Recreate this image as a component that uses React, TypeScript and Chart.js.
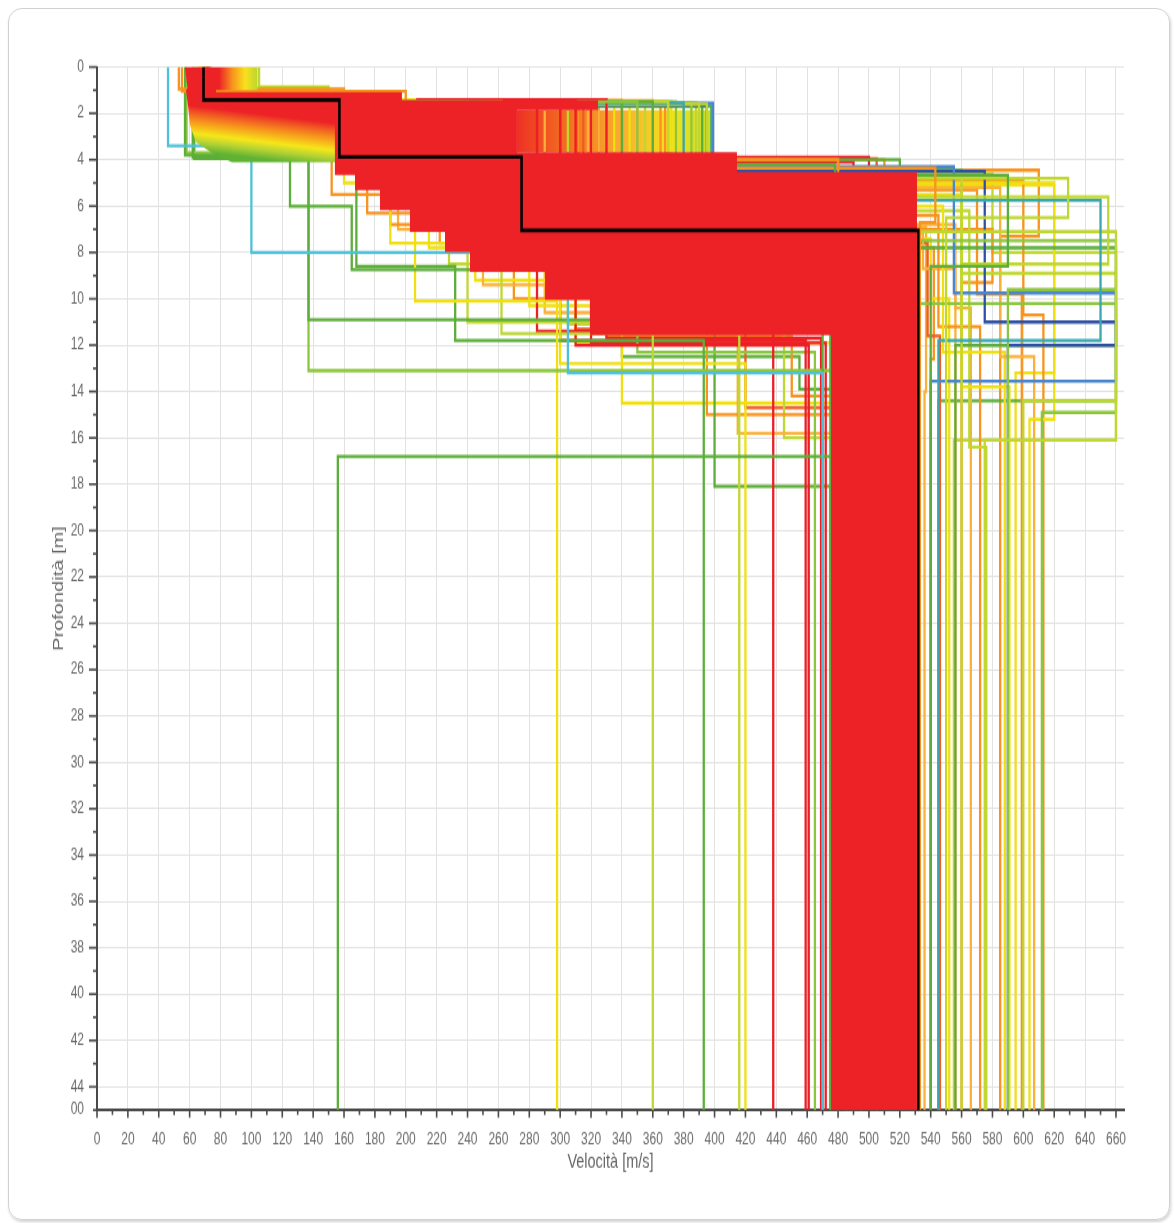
import React, { useEffect, useRef } from 'react';
import { Chart, registerables } from 'chart.js';

Chart.register(...registerables);

// ---------------- data ----------------
const DEPTH_MAX = 45;
const VEL_MAX = 665.2;
const VEL_TICK_LAST = 660;
const VEL_TICK_STEP = 10;

// best-fit profile (black)
const bestVelocities = [69, 157, 275, 532];
const bestInterfaces = [1.42, 3.88, 7.05];

// envelope of the dense red family of profiles (velocity, depth)
const redMassVelocities = [57.0, 77.1, 77.1, 197.5, 197.5, 324.5, 324.5, 272.0, 272.0, 414.5, 414.5, 531.1, 531.1, 475.4, 475.4, 319.3, 319.3, 290.2, 290.2, 241.6, 241.6, 225.4, 225.4, 202.7, 202.7, 183.3, 183.3, 167.1, 167.1, 154.1, 154.1, 154.1, 76.4, 66.7, 58.9];
const redMassDepths = [0, 0, 1.08, 1.08, 1.42, 1.42, 1.86, 1.86, 3.67, 3.67, 4.53, 4.53, 45, 45, 11.56, 11.56, 10.05, 10.05, 8.84, 8.84, 7.98, 7.98, 7.12, 7.12, 6.17, 6.17, 5.31, 5.31, 4.66, 4.66, 4.01, 1.77, 1.68, 1.42, 1.08];

// first-layer fan (red -> yellow -> green)
const topFanVelocities = [77, 104, 104, 77];
const topFanDepths = [0, 0, 1.0, 1.0];

// second-layer fan below the first step
const leftFanVelocities = [57.6, 58.9, 60.2, 64.1, 74.5, 87.4, 155.4, 155.4, 76.4, 66.7, 60.2];
const leftFanDepths = [0.99, 1.64, 2.5, 3.24, 3.71, 4.1, 4.1, 1.6, 1.6, 1.25, 0.82];

// striped band of the second layer
const stripeVelocities = [272, 399.5, 399.5, 272];
const stripeDepths = [1.86, 1.86, 3.67, 3.67];

// individual profiles: layer velocities [m/s] and interface depths [m]
const profileVelocities: number[][] = [
  [55, 200, 480],
  [53, 160, 480],
  [46, 100, 305, 470],
  [62, 125, 165, 470],
  [57, 137, 475],
  [58, 137, 480],
  [70, 250, 478, 156],
  [66, 206, 298],
  [64, 262, 360],
  [63, 168, 232, 393],
  [67, 240, 416],
  [69, 190, 300, 420],
  [70, 285, 438],
  [71, 300, 459],
  [72, 310, 461],
  [69, 350, 465],
  [73, 330, 469],
  [72, 320, 472],
  [70, 200, 400, 475],
  [66, 152, 190, 480],
  [66, 175, 222, 485],
  [67, 195, 250, 490],
  [68, 215, 280, 495],
  [65, 228, 330, 500],
  [66, 245, 310, 505],
  [67, 270, 395, 485],
  [67, 290, 415, 486],
  [68, 305, 445, 480],
  [66, 160, 340, 480],
  [68, 310, 420, 480],
  [65, 330, 450, 488],
  [66, 340, 455, 490],
  [70, 330, 543, 533],
  [72, 360, 590, 540],
  [73, 370, 629, 550],
  [71, 380, 650, 545],
  [70, 390, 655, 560],
  [72, 395, 660, 575],
  [71, 385, 660, 590],
  [72, 399, 555, 660, 540],
  [68, 395, 575, 660, 590],
  [74, 398, 520, 660, 556],
  [70, 380, 560, 660, 600],
  [69, 375, 530, 660, 612],
  [70, 370, 620, 604],
  [71, 360, 600, 613],
  [70, 350, 585, 607],
  [72, 340, 570, 599],
  [69, 335, 560, 591],
  [70, 345, 548, 588],
  [68, 355, 565, 576],
  [71, 365, 545, 572],
  [72, 340, 556, 566],
  [70, 330, 580, 560],
  [71, 325, 535, 556],
  [70, 320, 540, 552],
  [72, 315, 538, 546],
  [71, 312, 542, 540],
  [69, 318, 537, 536],
  [71, 392, 560, 660, 545],
  [70, 388, 580, 660, 555],
  [71, 372, 620, 595],
  [70, 368, 610, 585],
  [70, 285, 480],
  [70, 300, 490],
  [70, 312, 500],
  [70, 325, 505],
  [70, 340, 510],
  [105, 150, 480],
  [72, 398, 530],
];
const profileInterfaces: number[][] = [
  [1.05, 4.0],
  [0.95, 4.0],
  [3.4, 8.0, 13.2],
  [3.9, 6.0, 8.75],
  [3.8, 10.9],
  [3.7, 13.1],
  [1.5, 4.2, 16.8],
  [1.4, 10.1],
  [1.5, 11.5],
  [3.95, 8.6, 11.8],
  [1.5, 11.0],
  [1.5, 7.6, 12.8],
  [1.45, 11.4],
  [1.4, 11.8],
  [1.42, 12.0],
  [1.5, 12.3],
  [1.4, 11.7],
  [1.45, 11.9],
  [1.5, 4.3, 18.1],
  [1.4, 5.5, 6.8],
  [1.35, 6.3, 7.6],
  [1.45, 7.0, 9.4],
  [1.5, 7.8, 10.3],
  [1.55, 8.5, 10.6],
  [1.5, 9.2, 11.9],
  [1.45, 10.0, 15.0],
  [1.45, 10.6, 15.8],
  [1.5, 11.1, 16.0],
  [1.4, 5.0, 14.5],
  [1.45, 11.3, 14.7],
  [1.5, 11.6, 14.2],
  [1.5, 12.5, 13.9],
  [1.4, 4.36, 6.7],
  [1.5, 4.66, 8.6],
  [1.5, 4.8, 6.5],
  [1.55, 5.75, 11.8],
  [1.6, 5.6, 8.5],
  [1.6, 7.1, 16.1],
  [1.55, 7.5, 9.6],
  [1.55, 4.3, 9.75, 13.55],
  [1.65, 4.5, 11.0, 12.0],
  [1.7, 4.0, 7.8, 12.0],
  [1.6, 4.6, 8.9, 14.4],
  [1.5, 4.7, 10.2, 14.9],
  [1.5, 5.0, 15.2],
  [1.45, 4.9, 10.7],
  [1.5, 5.2, 12.5],
  [1.45, 5.3, 9.8],
  [1.55, 5.5, 13.8],
  [1.5, 6.0, 12.3],
  [1.6, 6.2, 16.4],
  [1.5, 6.4, 11.2],
  [1.45, 6.8, 10.4],
  [1.4, 7.0, 9.3],
  [1.45, 7.2, 8.7],
  [1.5, 7.4, 10.0],
  [1.4, 7.6, 11.6],
  [1.45, 7.8, 12.6],
  [1.5, 6.9, 14.0],
  [1.6, 4.45, 12.0, 14.4],
  [1.55, 4.6, 8.0, 16.1],
  [1.5, 5.1, 13.2],
  [1.5, 4.45, 7.3],
  [1.5, 4.0],
  [1.5, 4.1],
  [1.5, 3.9],
  [1.5, 3.95],
  [1.5, 4.0],
  [0.85, 4.0],
  [1.62, 4.4],
];
const profileColorKeys: string[] = [
  'O', 'O', 'C', 'G', 'G', 'LG', 'G', 'Y', 'YG', 'G',
  'YG', 'Y', 'R', 'R', 'R', 'LG', 'R', 'R', 'G', 'O',
  'O', 'A', 'Y', 'YG', 'Y', 'O', 'A', 'YG', 'Y', 'OR',
  'O', 'G', 'O', 'G', 'YG', 'T', 'YG', 'YG', 'LG', 'B',
  'N', 'G', 'YG', 'LG', 'Y', 'O', 'A', 'O', 'Y', 'Y',
  'YG', 'O', 'A', 'O', 'A', 'Y', 'OR', 'O', 'A', 'G',
  'YG', 'Y', 'O', 'R', 'R', 'R', 'OR', 'O', 'YG', 'C',
];

// ---------------- styles ----------------
const PALETTE: Record<string, string> = {
  R: '#ec1f26', OR: '#f15a24', O: '#f7931e', A: '#fbb03b', Y: '#f0e010',
  YG: '#bfd730', LG: '#8cc63f', G: '#5cae3a', C: '#4dc1d9', T: '#3aa7b0',
  B: '#4a86d0', N: '#2e4fa3',
};
const RED = '#ec2227';
const STRETCH = 1223 / 886;
const CANVAS_H = 886;
const PLOT_TOP = 67 / STRETCH;
const PLOT_BOTTOM = 1110 / STRETCH;
const X_AXIS_H = 50;
const FONT = "'Liberation Sans', Arial, sans-serif";

function steps(vel: number[], dep: number[]) {
  const pts: { x: number; y: number }[] = [];
  let top = 0;
  for (let i = 0; i < vel.length; i++) {
    const bottom = i < dep.length ? dep[i] : DEPTH_MAX;
    pts.push({ x: vel[i], y: top }, { x: vel[i], y: bottom });
    top = bottom;
  }
  return pts;
}

function polygon(vel: number[], dep: number[]) {
  return vel.map((v, i) => ({ x: v, y: dep[i] }));
}

function gradient(
  a: [number, number],
  b: [number, number],
  stops: [number, string][],
  fallback: string
) {
  return (c: any) => {
    const chart = c.chart;
    if (!chart.chartArea) return fallback;
    const xs = chart.scales.x;
    const ys = chart.scales.y;
    const g = chart.ctx.createLinearGradient(
      xs.getPixelForValue(a[0]), ys.getPixelForValue(a[1]),
      xs.getPixelForValue(b[0]), ys.getPixelForValue(b[1])
    );
    stops.forEach(([o, col]) => g.addColorStop(o, col));
    return g;
  };
}

const tickMarks = {
  id: 'tickMarks',
  afterDraw(chart: any) {
    const { ctx, chartArea } = chart;
    const xs = chart.scales.x;
    const ys = chart.scales.y;
    ctx.save();
    ctx.strokeStyle = '#4a4a4a';
    ctx.lineWidth = 1.6;
    xs.ticks.forEach((t: any) => {
      const px = xs.getPixelForValue(t.value);
      const len = Math.round(t.value) % 20 === 0 ? 5.5 : 3.5;
      ctx.beginPath();
      ctx.moveTo(px, chartArea.bottom);
      ctx.lineTo(px, chartArea.bottom + len);
      ctx.stroke();
    });
    ys.ticks.forEach((t: any) => {
      const py = ys.getPixelForValue(t.value);
      const len = Math.round(t.value) % 2 === 0 ? 8 : 4;
      ctx.beginPath();
      ctx.moveTo(chartArea.left, py);
      ctx.lineTo(chartArea.left - len, py);
      ctx.stroke();
    });
    ctx.restore();
  },
};

const fillShape = (data: { x: number; y: number }[], bg: any, order: number) => ({
  data,
  borderColor: 'rgba(0,0,0,0)',
  borderWidth: 0,
  backgroundColor: bg,
  pointRadius: 0,
  fill: 'shape',
  order,
});

export default function App() {
  const canvasRef = useRef<HTMLCanvasElement>(null);

  useEffect(() => {
    document.body.style.margin = '0';
    document.body.style.overflow = 'hidden';
    if (!canvasRef.current) return;

    const profileSets = profileVelocities.map((vel, i) => ({
      data: steps(vel, profileInterfaces[i]),
      borderColor: PALETTE[profileColorKeys[i]],
      borderWidth: 2.3,
      pointRadius: 0,
      fill: false,
      order: 3,
    }));

    const datasets: any[] = [
      {
        data: steps(bestVelocities, bestInterfaces),
        borderColor: '#000000',
        borderWidth: 2.6,
        pointRadius: 0,
        fill: false,
        order: 0,
      },
      fillShape(polygon(redMassVelocities, redMassDepths), RED, 1),
      fillShape(
        polygon(topFanVelocities, topFanDepths),
        gradient([79, 0.5], [104, 0.5], [
          [0, RED], [0.35, '#f7941d'], [0.68, '#f9e11c'], [1, '#bcd631'],
        ], RED),
        2
      ),
      fillShape(
        polygon(leftFanVelocities, leftFanDepths),
        gradient([112, 1.6], [109.6, 4.1], [
          [0, RED], [0.19, RED], [0.31, '#f15a24'], [0.45, '#f7941d'], [0.66, '#f6e71a'], [0.8, '#b3d235'], [0.96, '#5fb233'], [1, '#5fb233'],
        ], RED),
        2
      ),
      ...profileSets,
      fillShape(
        polygon(stripeVelocities, stripeDepths),
        gradient([272, 2.5], [399.5, 2.5], [
          [0, '#ee3124'], [0.3, '#f47b20'], [0.55, '#f9b233'], [0.78, '#f2e21b'], [1, '#c8da2b'],
        ], RED),
        4
      ),
    ];

    const chart = new Chart(canvasRef.current, {
      type: 'line',
      data: { datasets },
      plugins: [tickMarks],
      options: {
        animation: false,
        responsive: true,
        maintainAspectRatio: false,
        events: [],
        layout: {
          padding: {
            left: 0,
            right: 50,
            top: PLOT_TOP,
            bottom: CANVAS_H - PLOT_BOTTOM - X_AXIS_H,
          },
        },
        plugins: {
          legend: { display: false },
          tooltip: { enabled: false },
        },
        scales: {
          x: {
            type: 'linear',
            min: 0,
            max: VEL_MAX,
            afterFit: (s: any) => { s.height = X_AXIS_H; },
            afterBuildTicks: (s: any) => {
              const t: { value: number }[] = [];
              for (let v = 0; v <= VEL_TICK_LAST; v += VEL_TICK_STEP) t.push({ value: v });
              s.ticks = t;
            },
            ticks: {
              stepSize: VEL_TICK_STEP,
              autoSkip: false,
              maxRotation: 0,
              padding: 14,
              color: '#6a6a6a',
              font: { family: FONT, size: 12 },
              callback: (v: any) => (Math.round(Number(v)) % 20 === 0 ? String(Math.round(Number(v))) : ''),
            },
            grid: {
              drawTicks: false,
              lineWidth: 1,
              color: (c: any) => (c.tick && Math.round(c.tick.value) % 20 === 0 ? '#e2e2e2' : 'rgba(0,0,0,0)'),
            },
            border: { display: true, color: '#4a4a4a', width: 2 },
            title: {
              display: true,
              text: 'Velocità [m/s]',
              color: '#666666',
              font: { family: FONT, size: 14.5 },
              padding: { top: 0, bottom: 3.6 },
            },
          },
          y: {
            type: 'linear',
            reverse: true,
            min: 0,
            max: DEPTH_MAX,
            afterFit: (s: any) => { s.width = 97; },
            ticks: {
              stepSize: 1,
              autoSkip: false,
              padding: 13,
              color: '#6a6a6a',
              font: { family: FONT, size: 12 },
              callback: (v: any) => {
                const n = Math.round(Number(v));
                if (n % 2 === 0) return String(n);
                if (n === DEPTH_MAX) return '00';
                return '';
              },
            },
            grid: {
              drawTicks: false,
              lineWidth: 1,
              color: (c: any) => (c.tick && Math.round(c.tick.value) % 2 === 0 ? '#e2e2e2' : 'rgba(0,0,0,0)'),
            },
            border: { display: true, color: '#4a4a4a', width: 2 },
            title: {
              display: true,
              text: 'Profondità [m]',
              color: '#666666',
              font: { family: FONT, size: 14.5 },
              padding: { top: 50, bottom: 0 },
            },
          },
        },
      } as any,
    });

    return () => chart.destroy();
  }, []);

  return (
    <div style={{ position: 'absolute', left: 0, top: 0, width: 1174, height: 1223, background: '#ffffff', overflow: 'hidden' }}>
      <div
        style={{
          position: 'absolute', left: 8, top: 8, width: 1162, height: 1212,
          border: '1.5px solid #d2d2d2', borderRadius: 14, boxSizing: 'border-box',
          boxShadow: '1px 2px 3px rgba(0,0,0,0.18)',
        }}
      />
      <div
        style={{
          position: 'absolute', left: 0, top: 0, width: 1174, height: CANVAS_H,
          transform: `scaleY(${STRETCH})`, transformOrigin: '0 0',
        }}
      >
        <canvas ref={canvasRef} />
      </div>
    </div>
  );
}
